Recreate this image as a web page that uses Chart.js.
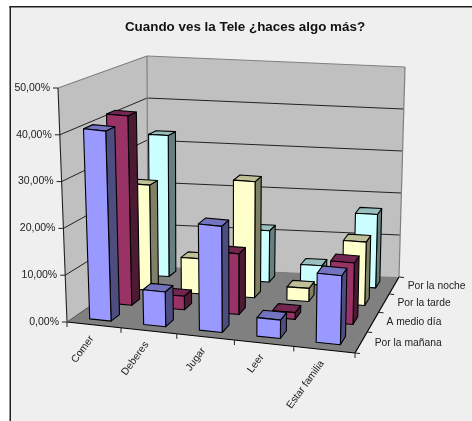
<!DOCTYPE html>
<html>
<head>
<meta charset="utf-8">
<style>html,body{margin:0;padding:0;background:#fff;overflow:hidden}canvas{display:block}</style>
<script src="https://cdn.jsdelivr.net/npm/chart.js@4"></script>
</head>
<body>
<canvas id="c" width="472" height="421"></canvas>
<script>
const titleText = 'Cuando ves la Tele ¿haces algo más?';
const categories = ['Comer', 'Deberes', 'Jugar', 'Leer', 'Estar familia'];
const seriesNames = ['Por la mañana', 'A medio día', 'Por la tarde', 'Por la noche'];
const porLaManana = [41, 7.5, 23, 4, 15];
const aMedioDia = [42, 3, 13.5, 1.5, 13.7];
const porLaTarde = [24, 8, 26.5, 3, 14.5];
const porLaNoche = [33, 4, 12, 4.5, 17.2];
const frontColors = ['#9999FF', '#993366', '#FFFFCC', '#CCFFFF'];
const sideColors = ['#4D4D80', '#4D1A33', '#808066', '#668080'];
const topColors = ['#7373BF', '#732650', '#BFBF99', '#99BFBF'];

// Projection of the 3D box: each corner is [x, y] on the page
const floorQuad = [[67, 322], [355, 353], [399, 277], [148, 266]];
const ceilQuad = [[58, 88], [360.4, 121.5], [405, 67], [147, 56]];
const barDepth = 0.4;
const warpU = 0.922, warpV = 1.14;

function lerp2(a, b, s) { return [a[0] + (b[0] - a[0]) * s, a[1] + (b[1] - a[1]) * s]; }
function quadPoint(q, u, v) { return lerp2(lerp2(q[0], q[1], u), lerp2(q[3], q[2], u), v); }
function project(u, v, t) {
  const uu = u * (warpU + (1 - warpU) * u), vv = v * (warpV + (1 - warpV) * v);
  return lerp2(quadPoint(floorQuad, uu, vv), quadPoint(ceilQuad, uu, vv), t);
}
function poly(ctx, pts, fill, stroke, lw) {
  ctx.beginPath();
  pts.forEach((p, i) => i ? ctx.lineTo(p[0], p[1]) : ctx.moveTo(p[0], p[1]));
  ctx.closePath();
  if (fill) { ctx.fillStyle = fill; ctx.fill(); }
  if (stroke) { ctx.strokeStyle = stroke; ctx.lineWidth = lw || 1; ctx.stroke(); }
}
function line(ctx, a, b, color, lw) {
  ctx.beginPath(); ctx.moveTo(a[0], a[1]); ctx.lineTo(b[0], b[1]);
  ctx.strokeStyle = color; ctx.lineWidth = lw || 1; ctx.stroke();
}
const uOf = (s, px) => (px - s.left) / s.width;
const tOf = (s, px) => (s.bottom - px) / s.height;

class Bar3DController extends Chart.BarController {
  draw() {
    const chart = this.chart, ctx = chart.ctx, meta = this.getMeta();
    const xs = chart.scales.x, ys = chart.scales.y, zs = chart.scales.z;
    const i = this.index;
    const vc = uOf(zs, zs.getPixelForValue(i)), dv = (barDepth / zs.getLabels().length) / 2;
    const v0 = vc - dv, v1 = vc + dv;
    ctx.save();
    ctx.lineJoin = 'round';
    meta.data.forEach(el => {
      const u0 = uOf(xs, el.x - el.width / 2), u1 = uOf(xs, el.x + el.width / 2), t = tOf(ys, el.y);
      poly(ctx, [project(u1, v0, 0), project(u1, v1, 0), project(u1, v1, t), project(u1, v0, t)], sideColors[i], '#000', 1.1);
      poly(ctx, [project(u0, v0, t), project(u1, v0, t), project(u1, v1, t), project(u0, v1, t)], topColors[i], '#000', 1.1);
      poly(ctx, [project(u0, v0, 0), project(u1, v0, 0), project(u1, v0, t), project(u0, v0, t)], frontColors[i], '#000', 1.1);
    });
    ctx.restore();
  }
}
Bar3DController.id = 'bar3d';
Bar3DController.defaults = Chart.BarController.defaults;
Chart.register(Bar3DController);

const framePlugin = {
  id: 'frame',
  beforeDraw(chart) {
    const ctx = chart.ctx;
    ctx.save();
    ctx.fillStyle = '#EFEFEF';
    ctx.fillRect(10, 6, chart.width - 10, chart.height - 6);
    ctx.fillStyle = '#222';
    ctx.fillRect(9.5, 6, 1.5, chart.height - 6);
    ctx.fillRect(9.5, 6, chart.width - 9.5, 1.5);
    ctx.restore();
  }
};

const axes3DPlugin = {
  id: 'axes3d',
  beforeDatasetsDraw(chart) {
    const ctx = chart.ctx, xs = chart.scales.x, ys = chart.scales.y, zs = chart.scales.z;
    ctx.save();
    const wallGray = '#808080';
    poly(ctx, [project(0, 0, 0), project(0, 1, 0), project(0, 1, 1), project(0, 0, 1)], '#C0C0C0');
    poly(ctx, [project(0, 1, 0), project(1, 1, 0), project(1, 1, 1), project(0, 1, 1)], '#C0C0C0');
    poly(ctx, [project(0, 0, 0), project(1, 0, 0), project(1, 1, 0), project(0, 1, 0)], '#808080');
    // gridlines and value ticks
    ys.ticks.forEach(tick => {
      const t = tOf(ys, ys.getPixelForValue(tick.value));
      if (t > 0 && t < 1) {
        line(ctx, project(0, 0, t), project(0, 1, t), '#222', 1);
        line(ctx, project(0, 1, t), project(1, 1, t), '#222', 1);
      }
      const p = project(0, 0, t);
      line(ctx, p, [p[0] - 5, p[1]], '#222', 1);
      ctx.fillStyle = '#222';
      ctx.font = '10.5px "Liberation Sans"';
      ctx.textAlign = 'right';
      ctx.textBaseline = 'middle';
      ctx.fillText(tick.label, p[0] - 8, p[1]);
    });
    // wall outline
    line(ctx, project(0, 0, 1), project(0, 1, 1), wallGray, 1.2);
    line(ctx, project(0, 1, 1), project(1, 1, 1), wallGray, 1.2);
    line(ctx, project(0, 1, 1), project(0, 1, 0), wallGray, 1.2);
    line(ctx, project(1, 1, 1), project(1, 1, 0), wallGray, 1.2);
    // axis lines
    line(ctx, project(0, 0, 0), project(0, 0, 1), '#222', 1.1);
    line(ctx, project(0, 0, 0), project(1, 0, 0), '#000', 1.2);
    line(ctx, project(1, 0, 0), project(1, 1, 0), '#000', 1.2);
    line(ctx, project(0, 0, 0), project(0, 1, 0), '#555', 1);
    // category ticks and labels
    const nx = categories.length, nz = seriesNames.length;
    for (let i = 0; i <= nx; i++) {
      const p = project(i / nx, 0, 0);
      line(ctx, p, [p[0], p[1] + 5], '#222', 1);
    }
    ctx.fillStyle = '#222';
    ctx.font = '10.3px "Liberation Sans"';
    xs.ticks.forEach((tick, i) => {
      const p = project(uOf(xs, xs.getPixelForTick(i)), 0, 0);
      ctx.save();
      ctx.translate(p[0] - 2, p[1] + 12);
      ctx.rotate(-54 * Math.PI / 180);
      ctx.textAlign = 'right';
      ctx.textBaseline = 'middle';
      ctx.fillText(tick.label, 0, 0);
      ctx.restore();
    });
    // depth ticks and labels
    for (let i = 0; i <= nz; i++) {
      const p = project(1, i / nz, 0);
      line(ctx, p, [p[0] + 5, p[1] + 0.5], '#222', 1);
    }
    zs.ticks.forEach((tick, i) => {
      const p = project(1, uOf(zs, zs.getPixelForTick(i)), 0);
      ctx.fillStyle = '#222';
      ctx.textAlign = 'left';
      ctx.textBaseline = 'middle';
      ctx.fillText(tick.label, p[0] + 13.5, p[1] + 0.5);
    });
    ctx.restore();
  }
};

const seriesValues = [porLaManana, aMedioDia, porLaTarde, porLaNoche];
new Chart(document.getElementById('c'), {
  type: 'bar3d',
  data: {
    labels: categories,
    datasets: seriesNames.map((name, i) => ({
      label: name,
      data: seriesValues[i],
      backgroundColor: frontColors[i],
      xAxisID: 'x',
      yAxisID: 'y',
      clip: false,
      grouped: false,
      categoryPercentage: 1,
      barPercentage: barDepth
    }))
  },
  options: {
    responsive: false,
    animation: false,
    events: [],
    layout: { padding: { left: 18 } },
    plugins: {
      legend: { display: false },
      tooltip: { enabled: false },
      title: {
        display: true,
        text: titleText,
        color: '#111',
        font: { family: '"Liberation Sans"', size: 13.4, weight: 'bold' },
        padding: { top: 19, bottom: 4 }
      }
    },
    scales: {
      x: { type: 'category', display: false, offset: true, ticks: { autoSkip: false } },
      z: { type: 'category', axis: 'x', position: 'bottom', labels: seriesNames, display: false, offset: true, ticks: { autoSkip: false } },
      y: {
        type: 'linear', display: false, min: 0, max: 50,
        ticks: { stepSize: 10, callback: v => v.toFixed(2).replace('.', ',') + '%' }
      }
    }
  },
  plugins: [framePlugin, axes3DPlugin]
});
</script>
</body>
</html>
